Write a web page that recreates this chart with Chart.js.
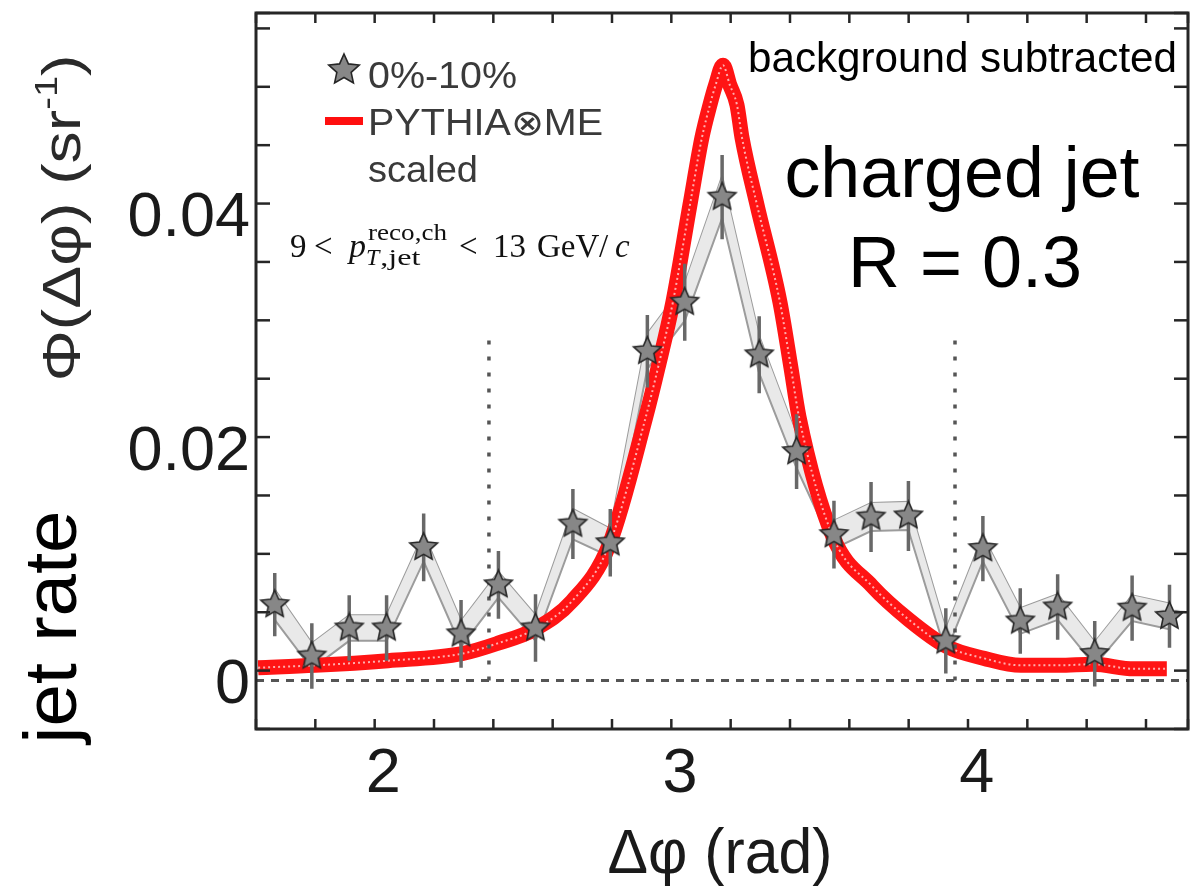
<!DOCTYPE html>
<html><head><meta charset="utf-8">
<script src="https://cdn.jsdelivr.net/npm/chart.js@4/dist/chart.umd.min.js"></script>
<style>html,body{margin:0;padding:0;background:#fff;}canvas{display:block;}</style>
</head><body>
<canvas id="c" width="1204" height="892"></canvas>
<script>
// ---- data ----
const deltaPhi = [1.634,1.759,1.885,2.011,2.136,2.262,2.388,2.513,2.639,2.765,2.890,3.016,3.142,3.267,3.393,3.519,3.644,3.770,3.896,4.021,4.147,4.273,4.398,4.524,4.650];
const rate0to10 = [0.0065,0.0021,0.0045,0.0045,0.0114,0.0040,0.0082,0.0045,0.0134,0.0118,0.0282,0.0324,0.0414,0.0279,0.0196,0.0125,0.0140,0.0141,0.0034,0.0113,0.0051,0.0063,0.0023,0.0062,0.0055];
const statErr = [0.0027,0.0028,0.0028,0.0028,0.0029,0.0029,0.0029,0.0029,0.0030,0.0029,0.0031,0.0033,0.0036,0.0033,0.0032,0.0029,0.0030,0.0030,0.0028,0.0028,0.0028,0.0028,0.0028,0.0028,0.0027];
const sysErr = [0.0013,0.0011,0.0011,0.0011,0.0012,0.0011,0.0011,0.0011,0.0013,0.0012,0.0015,0.0016,0.0018,0.0016,0.0014,0.0012,0.0012,0.0012,0.0010,0.0011,0.0011,0.0011,0.0010,0.0011,0.0011];
const pythiaX = [1.578,1.770,2.016,2.265,2.387,2.511,2.636,2.761,2.885,2.926,2.976,3.034,3.074,3.101,3.120,3.145,3.168,3.192,3.209,3.259,3.337,3.374,3.401,3.516,3.647,3.772,3.900,4.025,4.149,4.277,4.392,4.530,4.641];
const pythiaY = [0.0011,0.0013,0.0017,0.0023,0.0032,0.0044,0.0068,0.0116,0.0226,0.0268,0.0324,0.0408,0.0465,0.0493,0.0510,0.0527,0.0510,0.0493,0.0465,0.0408,0.0324,0.0268,0.0226,0.0123,0.0081,0.0052,0.0029,0.0019,0.0013,0.0013,0.0014,0.0010,0.0010];
const xRange = [1.5708, 4.7124];
const yRange = [-0.00415, 0.05717];
const xTickLabels = [2, 3, 4];
const yTickLabels = [0, 0.02, 0.04];
const yTickText = ['0', '0.02', '0.04'];
const refLinesX = [2.356, 3.927];
const refLineTop = 0.030;

const SANS = '"Liberation Sans", Arial, Helvetica, sans-serif';
const SERIF = '"Liberation Serif", "Times New Roman", serif';

function isIn(v, list){ return list.some(t => Math.abs(v - t) < 1e-7); }

function makeStar(R){
  const s = Math.ceil(R*2+4);
  const c = document.createElement('canvas'); c.width = s; c.height = s;
  const g = c.getContext('2d');
  g.translate(s/2, s/2);
  g.beginPath();
  for (let k=0;k<10;k++){
    const r = (k%2===0) ? R : R*0.47;
    const a = -Math.PI/2 + k*Math.PI/5;
    g.lineTo(r*Math.cos(a), r*Math.sin(a));
  }
  g.closePath();
  g.fillStyle = '#878787'; g.fill();
  g.lineWidth = 1.6; g.strokeStyle = '#262626'; g.stroke();
  return c;
}
const star = makeStar(14.5);
const legendStar = makeStar(16);

// ---- datasets built from arrays ----
const pts = deltaPhi.map((x,i)=>({x, y: rate0to10[i]}));
const sysHi = deltaPhi.map((x,i)=>({x, y: rate0to10[i]+sysErr[i]}));
const sysLo = deltaPhi.map((x,i)=>({x, y: rate0to10[i]-sysErr[i]}));
const errData = [];
deltaPhi.forEach((x,i)=>{ errData.push({x, y: rate0to10[i]-statErr[i]}, {x, y: rate0to10[i]+statErr[i]}, {x, y: null}); });
const pythia = pythiaX.map((x,i)=>({x, y: pythiaY[i]}));
const refData = [];
refLinesX.forEach(x=>{ refData.push({x, y:0}, {x, y:refLineTop}, {x, y:null}); });

function fitText(ctx, text, x, y, font, targetW, align){
  ctx.font = font;
  const w = ctx.measureText(text).width;
  const s = targetW ? targetW / w : 1;
  ctx.save(); ctx.translate(x, y); ctx.scale(s, 1);
  ctx.textAlign = align || 'left'; ctx.textBaseline = 'alphabetic';
  ctx.fillText(text, 0, 0);
  ctx.restore();
}

const decor = {
  id: 'decor',
  afterDraw(chart){
    const ctx = chart.ctx, a = chart.chartArea, xs = chart.scales.x, ys = chart.scales.y;
    ctx.save();
    ctx.strokeStyle = '#262626'; ctx.lineWidth = 2.5; ctx.lineCap = 'butt';
    const ln = (x1,y1,x2,y2)=>{ ctx.beginPath(); ctx.moveTo(x1,y1); ctx.lineTo(x2,y2); ctx.stroke(); };
    xs.ticks.forEach(t=>{
      const p = xs.getPixelForValue(t.value);
      const L = isIn(t.value, xTickLabels) ? 21 : 10;
      ln(p, a.bottom, p, a.bottom-L); ln(p, a.top, p, a.top+L);
    });
    ys.ticks.forEach(t=>{
      const p = ys.getPixelForValue(t.value);
      const L = isIn(t.value, yTickLabels) ? 28 : 14;
      ln(a.left, p, a.left+L, p); ln(a.right, p, a.right-L, p);
    });
    ctx.lineWidth = 3;
    ctx.strokeRect(a.left, a.top, a.right-a.left, a.bottom-a.top);

    // tick labels placed by the scales
    ctx.fillStyle = '#1a1a1a'; ctx.font = '63px ' + SANS; ctx.textBaseline = 'alphabetic';
    ctx.textAlign = 'center';
    xTickLabels.forEach(v => ctx.fillText(String(v), xs.getPixelForValue(v), a.bottom + 63));
    ctx.textAlign = 'right';
    yTickLabels.forEach((v,i) => ctx.fillText(yTickText[i], a.left - 6, ys.getPixelForValue(v) + 22.5));

    // legend
    ctx.drawImage(legendStar, 344 - legendStar.width/2, 70 - legendStar.height/2);
    ctx.fillStyle = '#ff0f0f'; ctx.fillRect(325, 117, 38, 8);
    ctx.fillStyle = '#3a3a3a';
    fitText(ctx, '0%-10%', 368, 88, '36px ' + SANS, 149, 'left');
    fitText(ctx, 'PYTHIA\u2297ME', 368, 135, '36px ' + SANS, 235, 'left');
    fitText(ctx, 'scaled', 368, 182, '36px ' + SANS, 110, 'left');

    // kinematic label
    ctx.fillStyle = '#111'; ctx.textAlign = 'left'; ctx.textBaseline = 'alphabetic';
    ctx.font = '33px ' + SERIF; ctx.fillText('9', 290, 257); ctx.fillText('<', 314, 257);
    ctx.font = 'italic 34px ' + SERIF; ctx.fillText('p', 349, 257);
    fitText(ctx, 'reco,ch', 368, 240, '24px ' + SERIF, 79, 'left');
    ctx.font = 'italic 24px ' + SERIF; ctx.fillText('T', 366, 265);
    const tw = ctx.measureText('T').width;
    fitText(ctx, ',jet', 366 + tw + 1, 265, '24px ' + SERIF, 40, 'left');
    ctx.font = '33px ' + SERIF; ctx.fillText('<', 459, 257); ctx.fillText('13', 493, 257);
    ctx.fillText('GeV', 537, 257); ctx.fillText('/', 599, 257);
    ctx.font = 'italic 33px ' + SERIF; ctx.fillText('c', 615, 257);

    // annotations
    ctx.fillStyle = '#000';
    fitText(ctx, 'background subtracted', 748, 72, '42px ' + SANS, 429, 'left');
    fitText(ctx, 'charged jet', 962, 197, '72px ' + SANS, 355, 'center');
    fitText(ctx, 'R = 0.3', 965, 287, '72px ' + SANS, 234, 'center');

    // x title
    ctx.fillStyle = '#1a1a1a';
    fitText(ctx, '\u0394\u03c6 (rad)', 720, 873, '63px ' + SANS, 225, 'center');

    // y title (rotated) with superscript
    ctx.save();
    ctx.translate(80, 218); ctx.rotate(-Math.PI/2);
    const fs = 54;
    const p1 = '\u03a6(\u0394\u03c6) (sr', p2 = '-1', p3 = ')';
    ctx.font = fs + 'px ' + SANS; const w1 = ctx.measureText(p1).width, w3 = ctx.measureText(p3).width;
    ctx.font = Math.round(fs*0.6) + 'px ' + SANS; const w2 = ctx.measureText(p2).width;
    const W = w1 + w2 + w3, target = 327, sc = target / W;
    ctx.scale(sc, 1);
    ctx.fillStyle = '#2a2a2a'; ctx.textAlign = 'left'; ctx.textBaseline = 'alphabetic';
    let u = -W/2;
    ctx.font = fs + 'px ' + SANS; ctx.fillText(p1, u, 0); u += w1;
    ctx.font = Math.round(fs*0.6) + 'px ' + SANS; ctx.fillText(p2, u, -fs*0.42); u += w2;
    ctx.font = fs + 'px ' + SANS; ctx.fillText(p3, u, 0);
    ctx.restore();

    // jet rate (rotated)
    ctx.save();
    ctx.translate(76, 627); ctx.rotate(-Math.PI/2);
    ctx.fillStyle = '#000';
    fitText(ctx, 'jet rate', 0, 0, '75px ' + SANS, 233, 'center');
    ctx.restore();

    ctx.restore();
  }
};

new Chart(document.getElementById('c'), {
  type: 'line',
  data: { datasets: [
    { label: 'sysHi', data: sysHi, borderColor: '#9c9c9c', borderWidth: 2, pointRadius: 0, fill: false, order: 20, tension: 0 },
    { label: 'sysLo', data: sysLo, borderColor: '#9c9c9c', borderWidth: 2, pointRadius: 0, fill: '-1', backgroundColor: '#e9e9e9', order: 19, tension: 0 },
    { label: 'zero', data: [{x:xRange[0], y:0}, {x:xRange[1], y:0}], borderColor: '#555', borderWidth: 3, borderDash: [8,7], pointRadius: 0, order: 18 },
    { label: 'PYTHIA', data: pythia, borderColor: '#ff1414', borderWidth: 15, pointRadius: 0, cubicInterpolationMode: 'monotone', order: 10, clip: 0, borderCapStyle: 'butt' },
    { label: 'PYTHIAc', data: pythia, borderColor: 'rgba(255,200,200,0.85)', borderWidth: 2, borderDash: [2,3], pointRadius: 0, cubicInterpolationMode: 'monotone', order: 9, clip: 0 },
    { label: 'ref', data: refData, borderColor: '#555', borderWidth: 3.5, borderDash: [4,12], pointRadius: 0, spanGaps: false, order: 8 },
    { label: 'err', data: errData, borderColor: '#686868', borderWidth: 3.5, pointRadius: 0, spanGaps: false, order: 2 },
    { label: '0%-10%', data: pts, showLine: false, pointStyle: star, pointRadius: 12, order: 1 }
  ]},
  options: {
    responsive: false, animation: false, devicePixelRatio: 1, events: [],
    layout: { padding: { left: 0, right: 16, top: 4, bottom: 0 } },
    plugins: { legend: { display: false }, tooltip: { enabled: false } },
    scales: {
      x: { type: 'linear', min: xRange[0], max: xRange[1], bounds: 'data',
        grid: { display: false, drawTicks: false }, border: { display: false },
        ticks: { display: false, stepSize: 0.2, includeBounds: false, autoSkip: false, maxRotation: 0 },
        afterFit: s => { s.height = 163; } },
      y: { type: 'linear', min: yRange[0], max: yRange[1], bounds: 'data',
        grid: { display: false, drawTicks: false }, border: { display: false },
        ticks: { display: false, stepSize: 0.005, includeBounds: false, autoSkip: false },
        afterFit: s => { s.width = 256; } }
    }
  },
  plugins: [decor]
});
</script>
</body></html>
